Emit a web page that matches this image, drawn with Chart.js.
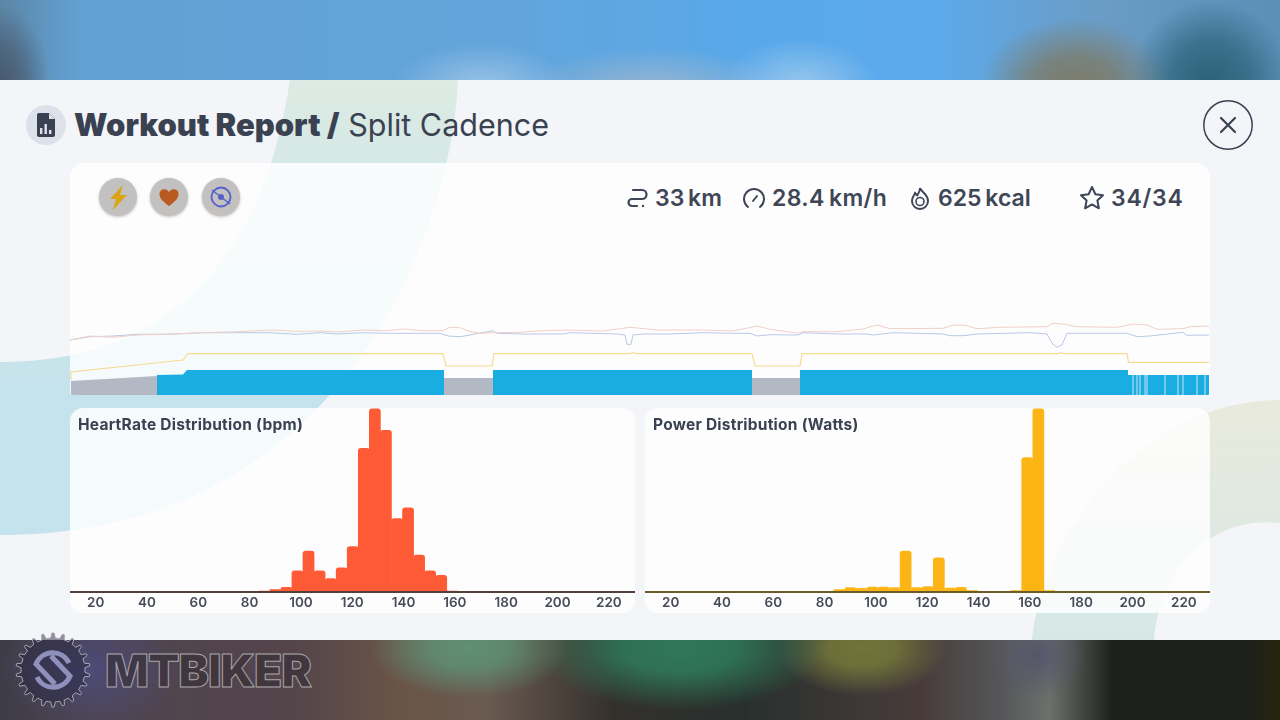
<!DOCTYPE html>
<html>
<head>
<meta charset="utf-8">
<title>Workout Report</title>
<script src="https://cdn.jsdelivr.net/npm/chart.js@4"></script>
<style>
html,body{margin:0;padding:0;width:1280px;height:720px;overflow:hidden;background:#f3f5f9;font-family:Inter,sans-serif;color:#3a4252}
.abs{position:absolute}
#top{left:0;top:0;width:1280px;height:80px;background:
 radial-gradient(95px 70px at 1075px 88px,#7d7a66 0,rgba(125,122,102,.75) 45%,rgba(125,122,102,0) 100%),
 radial-gradient(80px 85px at 1210px 85px,#2a6277 0,rgba(42,98,119,.7) 50%,rgba(42,98,119,0) 100%),
 radial-gradient(50px 80px at 0 85px,#46566a 0,rgba(70,86,106,.6) 50%,rgba(70,86,106,0) 100%),
 radial-gradient(90px 45px at 482px 88px,rgba(170,203,232,.8) 0,rgba(170,203,232,0) 100%),
 radial-gradient(130px 45px at 653px 92px,rgba(169,185,201,.85) 0,rgba(169,185,201,0) 100%),
 radial-gradient(80px 50px at 800px 88px,rgba(172,208,238,.8) 0,rgba(172,208,238,0) 100%),
 linear-gradient(90deg,#5c86a6 0,#62a0d2 6%,#62a5dc 40%,#58a8ea 60%,#5caaec 72%,#6a9cc6 86%,#5a8fb6 100%)}
#bottom{left:0;top:640px;width:1280px;height:80px;background:
 radial-gradient(90px 60px at 90px 30px,#4c4b78 0,rgba(76,75,120,0) 100%),
 radial-gradient(100px 50px at 470px 8px,#5f8f73 0,rgba(95,143,115,.85) 40%,rgba(95,143,115,0) 100%),
 radial-gradient(145px 62px at 680px 8px,#2f7757 0,rgba(47,119,87,.9) 40%,rgba(47,119,87,0) 100%),
 radial-gradient(85px 48px at 862px 8px,#72743a 0,rgba(114,116,58,.9) 40%,rgba(114,116,58,0) 100%),
 radial-gradient(50px 45px at 1037px 15px,#55566a 0,rgba(85,86,106,0) 100%),
 linear-gradient(90deg,#3e3c46 0,#4e4450 8%,#54454a 23%,#6a5448 31%,#6a5a50 38%,#33302c 48%,#28302e 58%,#483c3a 72%,#555558 78%,#6d706c 82%,#1b201b 87%,#1b201a 97%,#25240f 100%)}
#shapes{left:0;top:80px}
.card{position:absolute;background:rgba(255,255,255,.82);overflow:hidden}
#mainCard{left:70px;top:163px;width:1140px;height:232px;border-radius:14px 14px 3px 3px}
#hrCard{left:70px;top:408px;width:565px;height:205px;border-radius:13px}
#powCard{left:645px;top:408px;width:565px;height:205px;border-radius:13px}
canvas{position:absolute;display:block}
#timelineChart{left:0;top:67px}
#hrChart,#powChart{left:0;top:0}
.ctitle{position:absolute;left:8px;top:7px;font-size:15.5px;letter-spacing:.25px;font-weight:700;color:#3a4252;white-space:nowrap;z-index:2}
#title{left:74px;top:106px;font-size:31px;line-height:38px;white-space:nowrap}
#title b{font-weight:900}
#title span{font-weight:400;font-size:30.5px}
.stat{position:absolute;top:184px;font-size:23px;word-spacing:-2px;line-height:28px;font-weight:600;color:#3f4656;white-space:nowrap}
.bub{position:absolute;top:178px;width:38px;height:38px;border-radius:50%;background:#c2c1bf;box-shadow:0 1px 3px rgba(0,0,0,.25)}
#brand{left:105px;top:646px;font-size:46px;letter-spacing:-1.1px;line-height:48px;font-weight:900;color:rgba(50,42,50,.55);-webkit-text-stroke:1px #a9a4a8;white-space:nowrap}
</style>
</head>
<body>
<div class="abs" id="top"></div>
<svg class="abs" id="shapes" width="1280" height="560" viewBox="0 80 1280 560">
  <defs>
    <linearGradient id="lg1" gradientUnits="userSpaceOnUse" x1="0" y1="80" x2="0" y2="400"><stop offset="0" stop-color="#dcebe3"/><stop offset="1" stop-color="#c5e3ec"/></linearGradient>
    <linearGradient id="lg2" gradientUnits="userSpaceOnUse" x1="0" y1="400" x2="0" y2="640"><stop offset="0" stop-color="#e9eadc"/><stop offset="1" stop-color="#d6e8e6"/></linearGradient>
  </defs>
  <path d="M290 80 L458 80 C450 250 330 535 0 535 L0 362 C150 362 260 280 290 80Z" fill="url(#lg1)"/>
  <path d="M1032 640 C1045 520 1150 400 1280 400 L1280 523 C1210 515 1160 570 1154 640Z" fill="url(#lg2)"/>
</svg>
<div class="abs" id="bottom"></div>

<svg class="abs" style="left:26px;top:105px" width="40" height="40" viewBox="0 0 40 40">
  <circle cx="20" cy="20" r="20" fill="#dde1ea"/>
  <path d="M13 8h10l6 6v16a2 2 0 0 1-2 2H13a2 2 0 0 1-2-2V10a2 2 0 0 1 2-2z" fill="#3a4252"/>
  <path d="M23 8v6h6z" fill="#dde1ea"/>
  <rect x="14" y="23" width="2.400" height="6" fill="#dde1ea"/><rect x="18.500" y="19" width="2.400" height="10" fill="#dde1ea"/><rect x="23" y="25" width="2.400" height="4" fill="#dde1ea"/>
</svg>
<div class="abs" id="title"><b>Workout Report /</b> <span>Split Cadence</span></div>
<svg class="abs" style="left:1203px;top:100px" width="50" height="50" viewBox="0 0 50 50">
  <circle cx="25" cy="25" r="24.2" fill="none" stroke="#3a4252" stroke-width="1.5"/>
  <path d="M18 18L32 32M32 18L18 32" stroke="#3a4252" stroke-width="2.2" stroke-linecap="round"/>
</svg>

<div class="card" id="mainCard"><canvas id="timelineChart" width="1140" height="165" style="width:1140px;height:165px"></canvas></div>

<div class="bub" style="left:99px"><svg width="38" height="38" viewBox="0 0 38 38"><path d="M24 7L11 21h6l-3 11 14-15h-7z" fill="#d9a514"/></svg></div>
<div class="bub" style="left:150px"><svg width="38" height="38" viewBox="0 0 38 38"><path d="M19 28c-7-5-9.500-8-9.500-12a5 5 0 0 1 9.500-2 5 5 0 0 1 9.500 2c0 4-2.500 7-9.500 12z" fill="#b85a22"/></svg></div>
<div class="bub" style="left:202px"><svg width="38" height="38" viewBox="0 0 38 38"><circle cx="19" cy="19" r="9.500" fill="none" stroke="#5560cc" stroke-width="1.800"/><circle cx="19" cy="19" r="3" fill="#5560cc"/><path d="M10 12L28 26" stroke="#5560cc" stroke-width="1.500"/></svg></div>

<svg class="abs" style="left:625px;top:187px" width="24" height="22" viewBox="0 0 24 22"><path d="M8 3h9a4.500 4.500 0 0 1 0 9H7a3.500 3.500 0 0 0 0 7h5" fill="none" stroke="#3f4656" stroke-width="2.200" stroke-linecap="round"/><circle cx="18" cy="19" r="1.200" fill="#3f4656"/></svg>
<div class="stat" style="left:655px">33 km</div>
<svg class="abs" style="left:742px;top:187px" width="24" height="22" viewBox="0 0 24 22"><path d="M6 20a10 10 0 1 1 12 0" fill="none" stroke="#3f4656" stroke-width="2" stroke-linecap="round"/><path d="M11 14l4-5" stroke="#3f4656" stroke-width="2" stroke-linecap="round"/></svg>
<div class="stat" style="left:772px;letter-spacing:.4px">28.4 km/h</div>
<svg class="abs" style="left:908px;top:186px" width="24" height="24" viewBox="0 0 24 24"><path d="M12 2c1 4 8 6 8 13a8 8 0 0 1-16 0c0-4 2-5 3-8 1 1 2 2 2 3 1-2 3-4 3-8z" fill="none" stroke="#3f4656" stroke-width="2"/><circle cx="12" cy="15.500" r="4" fill="none" stroke="#3f4656" stroke-width="1.600"/></svg>
<div class="stat" style="left:938px">625 kcal</div>
<svg class="abs" style="left:1079px;top:185px" width="26" height="25" viewBox="0 0 26 25"><path d="M13 2l3.400 7.200 7.600 1-5.600 5.300 1.500 7.800-6.900-3.900-6.900 3.900 1.500-7.800L2 10.200l7.600-1z" fill="none" stroke="#3f4656" stroke-width="2" stroke-linejoin="round"/></svg>
<div class="stat" style="left:1111px;letter-spacing:.8px">34/34</div>

<div class="card" id="hrCard"><div class="ctitle">HeartRate Distribution (bpm)</div><canvas id="hrChart" width="565" height="205" style="width:565px;height:205px"></canvas></div>
<div class="card" id="powCard"><div class="ctitle">Power Distribution (Watts)</div><canvas id="powChart" width="565" height="205" style="width:565px;height:205px"></canvas></div>

<svg class="abs" style="left:10px;top:627px" width="86" height="86" viewBox="-43 -43 86 86">
  <path id="gear" fill="rgba(40,38,62,.5)" stroke="#a8a6b0" stroke-width="1"/>
  <path d="M16 -7A18 18 0 0 0 -17 -6L2 14M-16 7A18 18 0 0 0 17 6L-2 -14" fill="none" stroke="#9090bc" stroke-width="5"/>
</svg>
<div class="abs" id="brand">MTBIKER</div>

<script>
// histogram bins (bpm / watts)
const binCenters = [12.45,16.76,21.07,25.38,29.69,34,38.31,42.62,46.93,51.24,55.55,59.86,64.17,68.48,72.79,77.1,81.41,85.72,90.03,94.34,98.65,102.96,107.27,111.58,115.89,120.2,124.51,128.82,133.13,137.44,141.75,146.06,150.37,154.68,158.99,163.3,167.61,171.92,176.23,180.54,184.85,189.16,193.47,197.78,202.09,206.4,210.71,215.02,219.33,223.64,227.95];
const hrCounts = [0,0,0,0,0,0,0,0,0,0,0,0,0,0,0,0,0,1,2.3,4.7,21,40.7,21,13.3,24,45.3,143.3,182.7,161.3,73.3,84,36.7,21,16.7,1,0.7,0,0,0,0,0,0,0,0,0,0,0,0,0,0,0];
const powerCounts = [0,0,0,0,0,0,0,0,0,0,0,0,0,0,0,0,0,2.3,4.3,3.7,5,5,4.3,40.7,4.3,5.3,34,4,4.7,1.3,0,0,0,1.3,134,182.7,1.3,0,0,0,0,0,0,0,0,0,0,0,0,0,0];
const xTickValues = [20,40,60,80,100,120,140,160,180,200,220];

// timeline series, time axis in samples
const pinkTime = [0,20,43,67,100,133,167,200,227,250,267,293,317,333,353,373,380,390,400,410,423,450,467,497,533,560,587,633,663,687,700,728,733,767,793,807,820,873,883,895,907,930,977,983,993,1007,1047,1063,1077,1087,1113,1120,1139];
const pinkValues = [55,59,57.7,60,61,62.3,63.3,65,63.7,64,63,65,64.3,66,64.3,64.3,67.7,67.3,63.3,61.7,62.3,62.7,64,65,64,67.7,65,65,64,69,65.7,61.7,63.3,63.3,66,70,66.3,66.7,70,69.7,66.3,67.7,68.3,71.7,71,68.3,67.7,71,70,65.7,66.3,68.3,69];
const periwinkleTime = [0,20,43,67,100,133,167,200,227,250,267,293,317,370,378,390,400,423,427,450,493,500,547,555,557,561,563,573,600,633,663,680,687,700,728,733,767,797,803,823,873,880,893,907,960,977,982,987,992,997,1057,1067,1080,1113,1117,1139];
const periwinkleValues = [55,58.3,59,60.7,60.7,62.3,62.3,62.3,60.7,62.3,61,62.3,61.7,61.7,59,58.3,60,64.3,61.7,61,61,62.3,61,60,50.7,50.7,60,61,61,62.3,61.7,61.7,59,60.3,60,62.3,61,61,60,62.3,61,59.3,59.3,61,62.3,61,51.7,47.7,50,61.7,61.7,58.3,59,62.7,59.7,60];
const targetTime = [1,1,113,118,373,376,422,424,560,563,566,682,685,730,732,988,991,994,1057,1058.5,1139];
const targetValues = [15,23,35,41.3,41.3,29,29,41.3,41.3,42.5,41.3,41.3,29,29,41.3,41.3,42.3,41.3,41.3,32.7,32.7];
const restTime = [1,87,88,374,423,424,682,730];
const restValues = [14,19,null,17,17,null,17,17];
const workTime = [87,113,117,374,375,423,682,683,730,1058,1058,1062.5,1063,1063.5,1066.5,1067,1067.5,1069.5,1070,1070.5,1074.5,1075,1075.5,1076.5,1077,1077.5,1094.5,1095,1095.5,1107.5,1108,1108.5,1112.5,1113,1113.5,1126.5,1127,1127.5,1134.5,1135,1135.5,1139];
const workValues = [20,20.5,25,25,null,25,25,null,25,25,20,20,null,20,20,null,20,20,null,20,20,null,20,20,null,20,20,null,20,20,null,20,20,null,20,20,null,20,20,null,20,20];
const coolTime = [1058,1139];
const coolValues = [20,20];

function xy(ts, vs){ return ts.map(function(t,i){ return {x:t,y:vs[i]}; }); }

function lineSet(ts, vs, color, width){
  return {data:xy(ts,vs), borderColor:color, borderWidth:width, pointRadius:0, fill:false, tension:0};
}
function areaSet(ts, vs, color){
  return {data:xy(ts,vs), borderColor:color, borderWidth:0, backgroundColor:color, pointRadius:0, fill:'origin', tension:0, spanGaps:false};
}

// first dataset is painted last, so the pale stripes go after the solid blue
new Chart(document.getElementById('timelineChart'),{
  type:'line',
  data:{datasets:[
    areaSet(restTime,restValues,'#b2b9c4'),
    areaSet(workTime,workValues,'#19ade2'),
    areaSet(coolTime,coolValues,'#8fd2ee'),
    lineSet(targetTime,targetValues,'#f5dc90',1.2),
    lineSet(pinkTime,pinkValues,'#f0cfc8',1),
    lineSet(periwinkleTime,periwinkleValues,'#b9c8e6',1)
  ]},
  options:{
    responsive:false, animation:false,
    layout:{padding:0},
    plugins:{legend:{display:false},tooltip:{enabled:false}},
    scales:{
      x:{type:'linear',min:0,max:1140,display:false},
      y:{min:0,max:165,display:false}
    }
  }
});

function histogram(id, counts, color, axisColor){
  new Chart(document.getElementById(id),{
    type:'bar',
    data:{datasets:[{
      data:xy(binCenters,counts),
      backgroundColor:color,
      borderRadius:{topLeft:3,topRight:3,bottomLeft:0,bottomRight:0},
      borderSkipped:false,
      barPercentage:1, categoryPercentage:1
    }]},
    options:{
      responsive:false, animation:false,
      layout:{padding:0},
      plugins:{legend:{display:false},tooltip:{enabled:false}},
      scales:{
        x:{
          type:'linear', min:10, max:230.2, offset:false,
          afterBuildTicks:function(s){ s.ticks=xTickValues.map(function(v){ return {value:v}; }); },
          afterFit:function(s){ s.height=21; },
          grid:{display:false,drawTicks:false},
          border:{display:true,color:axisColor,width:2,z:1},
          ticks:{maxRotation:0,autoSkip:false,padding:3,color:'#454b59',font:{family:'Inter',size:13.5,weight:'600'}}
        },
        y:{min:0,max:183.5,display:false}
      }
    }
  });
}
histogram('hrChart',hrCounts,'#ff5a36','#54403a');
histogram('powChart',powerCounts,'#fdb515','#6b5a2c');

// logo gear outline
let gearPath='';
const TEETH=22;
for(let i=0;i<TEETH;i++){
  const a=i/TEETH*Math.PI*2, w=Math.PI*2/TEETH;
  [[0,32],[.25,32],[.4,37],[.6,37],[.75,32]].forEach(function(p,j){
    const ang=a+p[0]*w, r=p[1];
    gearPath+=((i===0&&j===0)?'M':'L')+(Math.cos(ang)*r).toFixed(1)+' '+(Math.sin(ang)*r).toFixed(1);
  });
}
document.getElementById('gear').setAttribute('d',gearPath+'Z');
</script>
</body>
</html>
